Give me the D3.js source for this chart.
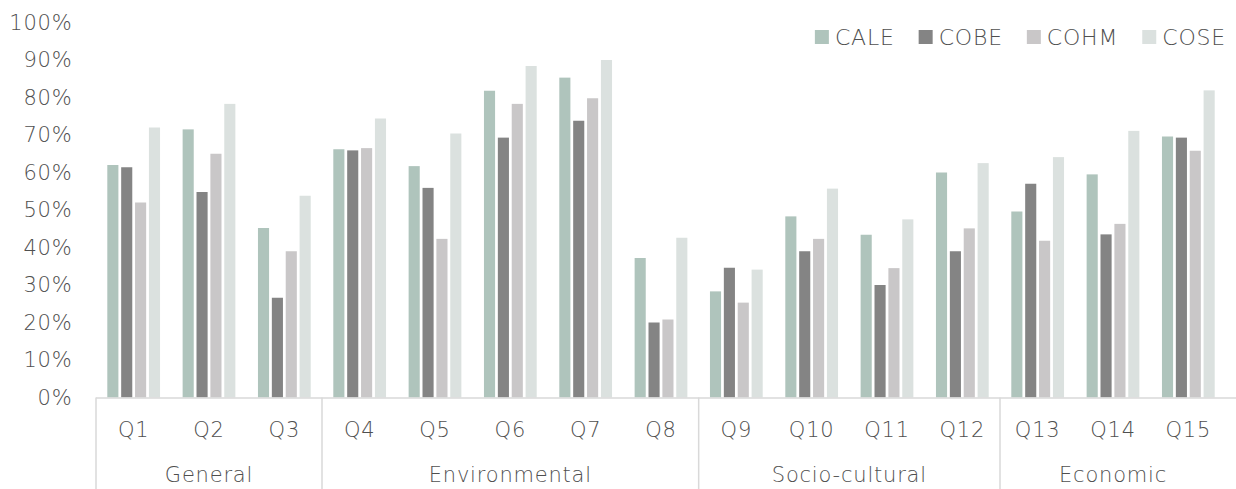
<!DOCTYPE html>
<html>
<head>
<meta charset="utf-8">
<script src="https://cdn.jsdelivr.net/npm/d3@7"></script>
<style>
  body { margin: 0; background: #fff; }
  text { font-family: "DejaVu Sans", sans-serif; font-weight: 200; fill: #4f4f4f; letter-spacing: 0.8px; }
</style>
</head>
<body>
<div id="chart"></div>
<script>
// Data (shares, 0..100)
const categories = ["Q1", "Q2", "Q3", "Q4", "Q5", "Q6", "Q7", "Q8", "Q9", "Q10", "Q11", "Q12", "Q13", "Q14", "Q15"];
const groupNames = ["General", "Environmental", "Socio-cultural", "Economic"];
const groupSizes = [3, 5, 4, 3];
const seriesNames = ["CALE", "COBE", "COHM", "COSE"];
const cale = [62, 71.5, 45.2, 66.2, 61.7, 81.8, 85.3, 37.2, 28.3, 48.3, 43.4, 60, 49.6, 59.5, 69.6];
const cobe = [61.4, 54.8, 26.6, 65.9, 55.9, 69.3, 73.8, 20, 34.6, 39, 30, 39, 57, 43.5, 69.3];
const cohm = [52, 65, 39, 66.5, 42.3, 78.3, 79.8, 20.8, 25.3, 42.3, 34.5, 45.1, 41.8, 46.3, 65.8];
const cose = [72, 78.3, 53.8, 74.4, 70.4, 88.4, 90, 42.6, 34.1, 55.7, 47.5, 62.5, 64.1, 71.1, 81.9];
const yTicks = [0, 10, 20, 30, 40, 50, 60, 70, 80, 90, 100];

const seriesValues = [cale, cobe, cohm, cose];
const colors = ["#afc4bc", "#848484", "#c9c7c8", "#dbe1df"];

const W = 1236, H = 489;
const plotLeft = 96, plotRight = 1226, plotTop = 22.5, base = 397.5;

const svg = d3.select("#chart").append("svg")
  .attr("width", W)
  .attr("height", H);

// scales
const x = d3.scaleBand()
  .domain(categories)
  .range([plotLeft, plotRight])
  .padding(0);

const xInner = d3.scaleBand()
  .domain(seriesNames)
  .range([x.bandwidth() * 0.15, x.bandwidth() * 0.85])
  .paddingInner(0.2);

const y = d3.scaleLinear()
  .domain([0, 100])
  .range([base, plotTop]);

// y labels
svg.append("g").selectAll("text")
  .data(yTicks)
  .enter()
  .append("text")
  .attr("x", 72.5)
  .attr("y", (d) => y(d))
  .attr("dy", "0.35em")
  .attr("text-anchor", "end")
  .style("font-size", "21px")
  .text((d) => d + "%");

// bars
const rows = [];
categories.forEach((c, i) => {
  seriesNames.forEach((s, j) => {
    rows.push({ cat: c, series: s, value: seriesValues[j][i], color: colors[j] });
  });
});

svg.append("g").selectAll("rect")
  .data(rows)
  .enter()
  .append("rect")
  .attr("x", (d) => x(d.cat) + xInner(d.series))
  .attr("width", xInner.bandwidth())
  .attr("y", (d) => y(d.value))
  .attr("height", (d) => base - y(d.value))
  .attr("fill", (d) => d.color);

// axis line
svg.append("line")
  .attr("x1", plotLeft)
  .attr("x2", W)
  .attr("y1", base + 0.5)
  .attr("y2", base + 0.5)
  .attr("stroke", "#d9d9d9")
  .attr("stroke-width", 1.5);

// category labels
svg.append("g").selectAll("text")
  .data(categories)
  .enter()
  .append("text")
  .attr("x", (d) => x(d) + x.bandwidth() / 2)
  .attr("y", 430)
  .attr("dy", "0.35em")
  .attr("text-anchor", "middle")
  .style("font-size", "21px")
  .text((d) => d);

// group separators + group labels
let start = 0;
const groupRows = groupNames.map((g, i) => {
  const r = { name: g, first: categories[start], last: categories[start + groupSizes[i] - 1] };
  start += groupSizes[i];
  return r;
});

svg.append("g").selectAll("line")
  .data(groupRows)
  .enter()
  .append("line")
  .attr("x1", (d) => x(d.first))
  .attr("x2", (d) => x(d.first))
  .attr("y1", base)
  .attr("y2", H)
  .attr("stroke", "#d9d9d9")
  .attr("stroke-width", 1.5);

svg.append("g").selectAll("text")
  .data(groupRows)
  .enter()
  .append("text")
  .attr("x", (d) => (x(d.first) + x(d.last) + x.bandwidth()) / 2)
  .attr("y", 475)
  .attr("dy", "0.35em")
  .attr("text-anchor", "middle")
  .style("font-size", "21px")
  .text((d) => d.name);

// legend, right aligned
const legend = svg.append("g");
const items = legend.selectAll("g")
  .data(seriesNames)
  .enter()
  .append("g");

items.append("rect")
  .attr("width", 14)
  .attr("height", 14)
  .attr("y", 30)
  .attr("fill", (d, i) => colors[i]);

items.append("text")
  .attr("x", 20)
  .attr("y", 37)
  .attr("dy", "0.35em")
  .style("font-size", "22px")
  .text((d) => d);

const legendGap = 24;
let lx = 0;
items.each(function() {
  const g = d3.select(this);
  const tw = g.select("text").node().getComputedTextLength();
  g.attr("transform", "translate(" + lx + ",0)");
  lx += 20 + tw + legendGap;
});
legend.attr("transform", "translate(" + (1226 - (lx - legendGap)) + ",0)");
</script>
</body>
</html>
